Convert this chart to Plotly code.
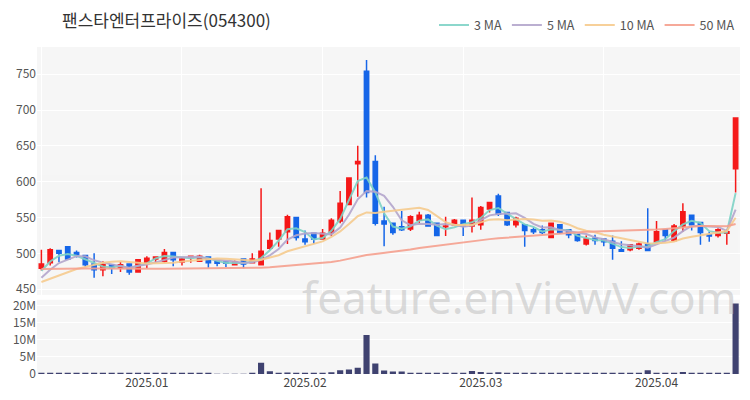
import pandas as pd
import plotly.graph_objects as go

# ---------------- data ----------------
holidays = ["2024-12-25", "2024-12-31", "2025-01-01", "2025-01-27", "2025-01-28",
            "2025-01-29", "2025-01-30", "2025-03-03"]
dates = [d.strftime("%Y-%m-%d") for d in pd.bdate_range("2024-12-12", "2025-04-14")
         if d.strftime("%Y-%m-%d") not in holidays]

open_ = [479, 487, 504, 509, 501, 497, 485, 477, 484, 480,
         485, 474, 487, 492, 489, 501, 488, 494, 489, 495,
         489, 488, 484, 492, 487, 484, 507, 520, 530, 550,
         520, 528, 520, 529, 545, 568, 625, 754, 628, 545,
         542, 537, 534, 546, 553, 542, 537, 540, 546, 538,
         540, 562, 580, 557, 540, 540, 533, 533, 522, 540,
         533, 526, 513, 521, 520, 517, 505, 505, 507, 513,
         516, 533, 518, 538, 553, 543, 526, 525, 528, 618]
high = [505, 507, 505, 510, 504, 498, 500, 489, 485, 488,
        486, 492, 496, 496, 506, 502, 495, 497, 498, 496,
        490, 489, 490, 493, 500, 591, 529, 533, 554, 551,
        532, 529, 534, 549, 587, 606, 650, 770, 637, 565,
        543, 559, 553, 558, 555, 543, 551, 548, 547, 578,
        566, 572, 583, 558, 551, 541, 536, 539, 543, 541,
        534, 527, 525, 526, 521, 525, 517, 513, 515, 563,
        545, 534, 541, 570, 554, 544, 530, 535, 534, 689]
low = [476, 483, 488, 491, 494, 481, 466, 468, 471, 474,
       470, 473, 479, 487, 487, 482, 483, 487, 488, 480,
       482, 481, 483, 479, 486, 484, 505, 509, 513, 518,
       512, 513, 519, 524, 542, 567, 579, 578, 539, 510,
       526, 531, 531, 542, 537, 524, 524, 538, 524, 529,
       533, 557, 552, 538, 536, 509, 527, 527, 521, 527,
       521, 516, 511, 512, 510, 491, 502, 503, 505, 503,
       514, 518, 517, 530, 532, 512, 516, 522, 512, 585]
close = [485, 505, 500, 492, 498, 484, 477, 484, 480, 484,
         474, 491, 493, 495, 501, 491, 492, 496, 496, 487,
         486, 486, 488, 485, 492, 503, 518, 532, 551, 522,
         516, 520, 528, 546, 570, 605, 628, 585, 542, 541,
         529, 533, 551, 553, 538, 525, 538, 546, 538, 546,
         564, 571, 555, 540, 549, 532, 530, 529, 542, 529,
         526, 518, 520, 518, 516, 507, 503, 512, 513, 504,
         530, 525, 538, 558, 540, 529, 524, 533, 530, 689]
volume = [0.15, 0.2, 0.12, 0.15, 0.1, 0.12, 0.18, 0.1, 0.1, 0.08,
          0.12, 0.15, 0.1, 0.08, 0.15, 0.1, 0.08, 0.07, 0.08, 0.07,
          0.06, 0.05, 0.05, 0.06, 0.1, 3.3, 0.8, 0.3, 0.45, 0.3,
          0.15, 0.2, 0.15, 0.5, 1.1, 1.3, 1.8, 11.4, 3.1, 1.0,
          0.7, 0.7, 0.35, 0.3, 0.2, 0.2, 0.25, 0.2, 0.3, 0.9,
          0.6, 0.35, 0.5, 0.3, 0.2, 0.4, 0.15, 0.15, 0.2, 0.15,
          0.15, 0.12, 0.15, 0.12, 0.15, 0.3, 0.12, 0.12, 0.12, 1.1,
          0.4, 0.2, 0.3, 0.6, 0.3, 0.3, 0.15, 0.2, 0.2, 20.6]
volume = [v * 1e6 for v in volume]

# closes before the visible window (used only to seed the moving averages)
prior_close = [492, 488, 495, 490, 484, 486, 491, 497, 489, 483, 480, 486,
               490, 493, 488, 485, 482, 487, 491, 486, 484, 488, 482, 481,
               484, 480, 478, 482, 479, 476, 481, 478, 474, 477, 480, 476,
               472, 470, 468, 461, 458, 452, 449, 455, 456, 448, 454, 466, 476]

ma_periods = [3, 5, 10, 50]
ma_names = ["3 MA", "5 MA", "10 MA", "50 MA"]
ma_colors = ["#7fd3c6", "#b4a6cc", "#f6cb8e", "#f5a08e"]

tick_vals = ["2025-01-02", "2025-02-03", "2025-03-04", "2025-04-01"]
tick_text = ["2025.01", "2025.02", "2025.03", "2025.04"]

# ---------------- figure ----------------
full_close = pd.Series(prior_close + close)
n = len(close)

fig = go.Figure()
fig.add_trace(go.Candlestick(
    x=dates, open=open_, high=high, low=low, close=close,
    increasing=dict(line=dict(color="#f51a1a", width=1.5), fillcolor="#f51a1a"),
    decreasing=dict(line=dict(color="#1766e8", width=1.5), fillcolor="#1766e8"),
    showlegend=False, xaxis="x", yaxis="y", hoverinfo="skip"))

for p, name, col in zip(ma_periods, ma_names, ma_colors):
    ma = full_close.rolling(p).mean().iloc[-n:].tolist()
    fig.add_trace(go.Scatter(x=dates, y=ma, mode="lines", name=name,
                             line=dict(color=col, width=2), opacity=0.9,
                             xaxis="x", yaxis="y"))

fig.add_trace(go.Bar(x=dates, y=volume, marker=dict(color="#3f4270", line=dict(width=0)),
                     showlegend=False, xaxis="x2", yaxis="y2"))

font_family = "Noto Sans CJK KR, Noto Sans, sans-serif"
fig.update_layout(
    width=750, height=400,
    margin=dict(l=37, r=10, t=33, b=20),
    paper_bgcolor="white", plot_bgcolor="#f6f6f6",
    font=dict(family=font_family, size=12, color="#555"),
    title=dict(text="팬스타엔터프라이즈(054300)", x=62 / 750, xanchor="left",
               xref="container", y=0.948, yref="container", yanchor="middle",
               font=dict(size=17, color="#333", family=font_family)),
    legend=dict(orientation="h", x=1, xanchor="right", y=1.02, yanchor="bottom",
                font=dict(size=12.5, color="#555"), bgcolor="rgba(0,0,0,0)",
                itemwidth=30),
    bargap=0.3,
    xaxis=dict(type="category", domain=[0, 1], anchor="y", range=[-0.5, n - 0.5],
               tickmode="linear", tick0=0, dtick=16, showticklabels=False,
               showgrid=True, gridcolor="white", gridwidth=1,
               rangeslider=dict(visible=False), zeroline=False),
    xaxis2=dict(type="category", domain=[0, 1], anchor="y2", matches="x",
                range=[-0.5, n - 0.5], tickmode="array", tickvals=tick_vals,
                ticktext=tick_text, showgrid=False, tickfont=dict(size=12, color="#444"),
                zeroline=False),
    yaxis=dict(domain=[0.242, 1], range=[442, 788], tickvals=[450, 500, 550, 600, 650, 700, 750],
               showgrid=True, gridcolor="white", zeroline=False,
               tickfont=dict(size=12, color="#555")),
    yaxis2=dict(domain=[0, 0.227], range=[0, 21.7e6], tickvals=[0, 5e6, 10e6, 15e6, 20e6],
                ticktext=["0", "5M", "10M", "15M", "20M"], showgrid=True,
                gridcolor="white", zeroline=False, tickfont=dict(size=12, color="#555")),
    annotations=[dict(text="feature.enViewV.com", xref="paper", yref="paper",
                      x=0.687, y=0.235, xanchor="center", yanchor="middle",
                      showarrow=False,
                      font=dict(size=44, color="rgba(190,190,190,0.55)",
                                family="Noto Sans, sans-serif"))],
)

fig.write_html("out.html", config={"displayModeBar": False},
               post_script="document.body.style.margin='0px';")
